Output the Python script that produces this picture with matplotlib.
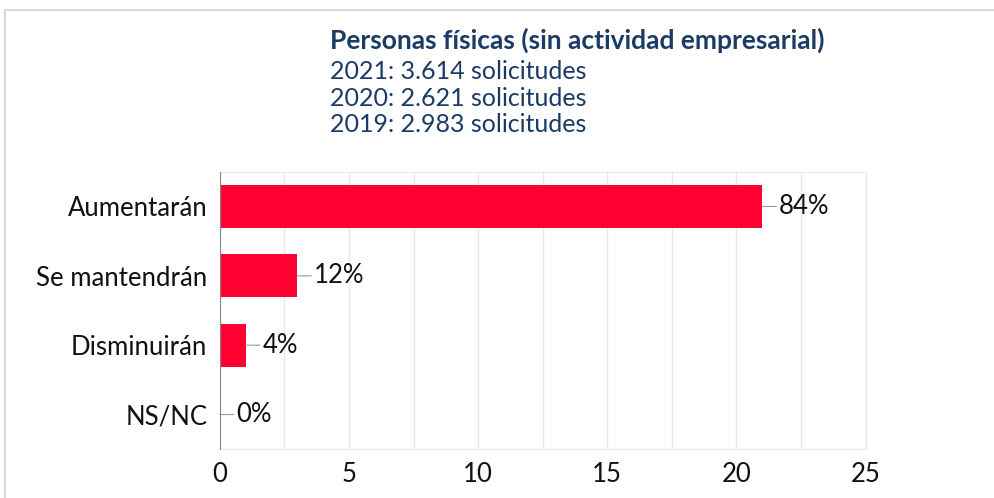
import matplotlib
matplotlib.use('Agg')
from matplotlib import pyplot as plt
from matplotlib.patches import Rectangle
from matplotlib.ticker import MultipleLocator

categories = ['Aumentarán', 'Se mantendrán', 'Disminuirán', 'NS/NC']
counts = [21, 3, 1, 0]
pct_labels = ['84%', '12%', '4%', '0%']
title = 'Personas físicas (sin actividad empresarial)'
subtitle = ['2021: 3.614 solicitudes', '2020: 2.621 solicitudes', '2019: 2.983 solicitudes']

plt.rcParams['font.family'] = ['Lato', 'DejaVu Sans']
navy = '#1b3a66'
red = '#ff0033'

fig = plt.figure(figsize=(9.95, 4.98), dpi=100)
ax = fig.add_axes([0.221, 0.098, 0.649, 0.557])

ypos = list(range(len(categories)))
ax.barh(ypos, counts, height=0.62, color=red, zorder=3)
ax.set_ylim(len(categories) - 0.5, -0.5)
ax.set_xlim(0, 25)
ax.set_yticks(ypos)
ax.set_yticklabels(categories, fontsize=18.5, color='#111111')
ax.xaxis.set_major_locator(MultipleLocator(5))
ax.xaxis.set_minor_locator(MultipleLocator(2.5))
ax.tick_params(axis='x', labelsize=18.5, colors='#111111', length=0, pad=9, which='both')
ax.tick_params(axis='y', length=0, pad=9)
ax.grid(axis='x', which='both', color='#e8e8e8', lw=1, zorder=0)

for s in ['top', 'right', 'bottom']:
    ax.spines[s].set_color('#e8e8e8')
ax.spines['left'].set_color('#888888')
ax.spines['left'].set_zorder(4)

for y, v, lab in zip(ypos, counts, pct_labels):
    ax.annotate(lab, xy=(v, y), xytext=(12, 0), textcoords='offset points',
                va='center', ha='left', fontsize=18.5, color='#111111',
                arrowprops=dict(arrowstyle='-', color='#999999', lw=0.8,
                                shrinkA=0, shrinkB=0))

fig.text(0.332, 0.92, title, fontsize=19, fontweight='bold', color=navy, va='center')
for i, line in enumerate(subtitle):
    fig.text(0.332, 0.857 - i * 0.054, line, fontsize=18, color=navy, va='center')

fig.patches.append(Rectangle((0.005, -0.01), 1.0, 0.99, transform=fig.transFigure,
                             fill=False, edgecolor='#d8d8d8', lw=1.5))

fig.savefig('out.png', dpi=100)
